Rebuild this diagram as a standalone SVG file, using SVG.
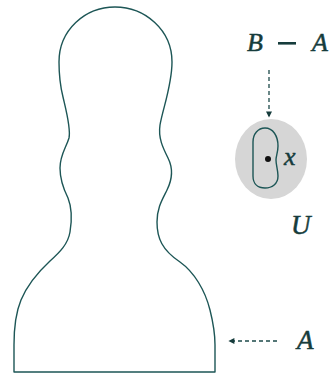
<svg xmlns="http://www.w3.org/2000/svg" width="335" height="377" viewBox="0 0 335 377">
<style>
.ln{fill:none;stroke:#1d5656;stroke-width:1.4;stroke-linejoin:round}
.dash{fill:none;stroke:#1d4a4a;stroke-width:1.3;stroke-dasharray:4 3}
.t{font-family:"Liberation Serif",serif;font-style:italic;fill:#163c3c;stroke:#163c3c;stroke-width:0.5}
</style>
<defs>
<marker id="ah" viewBox="0 0 10 10" refX="9" refY="5" markerWidth="7" markerHeight="6" orient="auto" markerUnits="userSpaceOnUse">
<path d="M0,0 L10,5 L0,10 Z" fill="#163c3c"/>
</marker>
</defs>
<g id="A-shape">
<path class="ln" d="M115,7 C145,7 172,30 172,62 C172,85 163,108 160,125 C158,138 163,148 168,158 C173,168 172,180 167,190 C162,200 157,208 157,222 C157,238 162,250 180,262 C194,272 205,290 210,310 C213,322 215,335 215,345 L215,372 L14,372 L14,345 C14,330 16,312 21,300 C26,288 36,274 50,261 C60,252 68,244 70,232 C72,220 72,208 68,198 C64,190 60,180 60,168 C60,155 66,148 69,138 C71,128 66,110 63,97 C60,85 59,75 59,62 C59,30 85,7 115,7 Z"/>
</g>
<g id="U">
<ellipse cx="271" cy="159" rx="36" ry="40" fill="#d6d6d6"/>
<path class="ln" d="M265,128 C273,128 278,136 278,146 C278,152 276,156 276,160 C276,165 278,170 278,176 C278,184 272,188 265,188 C258,188 253,184 253,176 L253,142 C253,134 258,128 265,128 Z"/>
<circle cx="268" cy="159" r="3" fill="#111"/>
<text class="t" x="284" y="165" font-size="26">x</text>
<text class="t" x="291" y="234" font-size="27">U</text>
</g>
<g id="labels">
<text class="t" x="247" y="51" font-size="26">B</text>
<rect x="278" y="42" width="18" height="2.6" fill="#163c3c"/>
<text class="t" x="312" y="51" font-size="26">A</text>
<text class="t" x="297" y="349" font-size="27">A</text>
</g>
<g id="connectors">
<path class="dash" d="M269,70 L269,117" marker-end="url(#ah)"/>
<path class="dash" d="M277,341 L229,341" marker-end="url(#ah)"/>
</g>
</svg>
